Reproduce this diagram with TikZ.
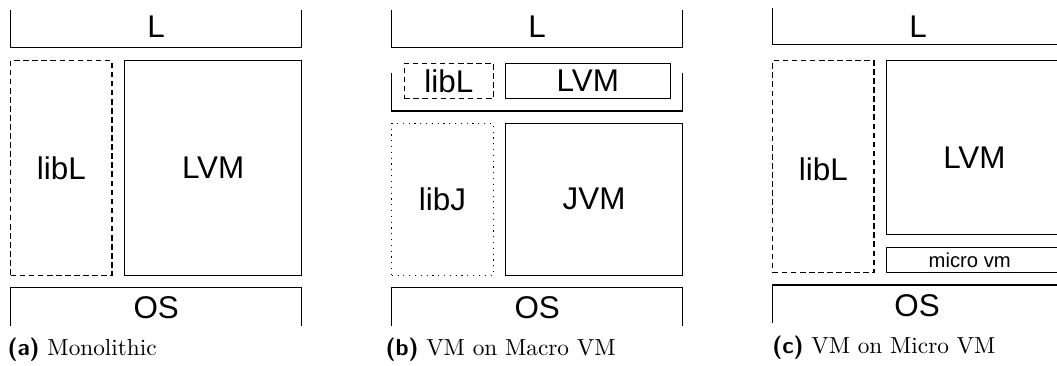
\documentclass[tikz,border=0pt]{standalone}
\usepackage{fontspec}
\newfontfamily\layerfont{Liberation Sans}
\usetikzlibrary{fit}
\usetikzlibrary{positioning}
\tikzset{
  layer/.style={draw, inner sep=0pt},
  liblayer/.style={layer, dash pattern=on 2.4pt off 1.5pt},
  jlayer/.style={layer, dotted},
  tag/.style={inner sep=0pt, font=\layerfont\fontsize{13.5}{16}\selectfont},
  smalltag/.style={inner sep=0pt, font=\layerfont\fontsize{8.7}{10}\selectfont},
  subcap/.style={anchor=base west, inner sep=0pt, font=\fontsize{10}{12}\selectfont}
}

\begin{document}
\begin{tikzpicture}[x=0.43pt, y=-0.43pt, line width=0.5pt]
    \useasboundingbox (0,0) rectangle (1057,365);

    % (a) monolithic
    \draw (10.7,10) |- (301.7,47.7) -- (301.7,10);
    \node (La) [tag] at (156.2,26.7) {L};
    \node (libLa) [liblayer, fit={(10.7,60.7) (112,275.3)}, label={[tag]center:libL}] {};
    \node (LVMa) [layer, fit={(124.7,60.7) (301.7,275.3)}, label={[tag]center:LVM}] {};
    \draw (10.7,326) |- (301.7,287.7) -- (301.7,326);
    \node (OSa) [tag] at (156.2,307.5) {OS};
    \node (capa) [subcap] at (7,355) {\textsf{\textbf{(a)}} Monolithic};

    % (b) on a macro vm
    \draw (391.7,10) |- (682.7,47.7) -- (682.7,10);
    \node (Lb) [tag] at (537.2,26.7) {L};
    \draw (391.7,72.7) |- (682.7,111) -- (682.7,72.7);
    \node (libLb) [liblayer, fit={(404.3,63.3) (493.3,98.7)}, label={[tag]center:libL}] {};
    \node (LVMb) [layer, fit={(505.3,63.3) (670.3,98.7)}, label={[tag]center:LVM}] {};
    \node (libJ) [jlayer, fit={(391.7,123.3) (493.3,275.3)}, label={[tag]center:libJ}] {};
    \node (JVM) [layer, fit={(505.3,123.3) (682.7,275.3)}, label={[tag]center:JVM}] {};
    \draw (391.7,326) |- (682.7,287.7) -- (682.7,326);
    \node (OSb) [tag] at (537.2,307.5) {OS};
    \node (capb) [subcap] at (385,355) {\textsf{\textbf{(b)}} VM on Macro VM};

    % (c) on a micro vm
    \draw (772.7,8.3) |- (1062,44.3) -- (1062,8.3);
    \node (Lc) [tag] at (918,27) {L};
    \node (libLc) [liblayer, fit={(772.7,60.7) (874,272.7)},
        label={[tag, yshift=-1.3pt]center:libL}] {};
    \node (LVMc) [layer, fit={(886.7,60.7) (1062,234.3)},
        label={[tag, yshift=-4.2pt]center:LVM}] {};
    \node (micro) [layer, fit={(886.7,247.3) (1062,272.7)},
        label={[smalltag, xshift=-2pt]center:micro vm}] {};
    \draw (772.7,323.3) |- (1062,285) -- (1062,323.3);
    \node (OSc) [tag] at (917,306) {OS};
    \node (capc) [subcap] at (771.7,353.3) {\textsf{\textbf{(c)}} VM on Micro VM};
\end{tikzpicture}
\end{document}
